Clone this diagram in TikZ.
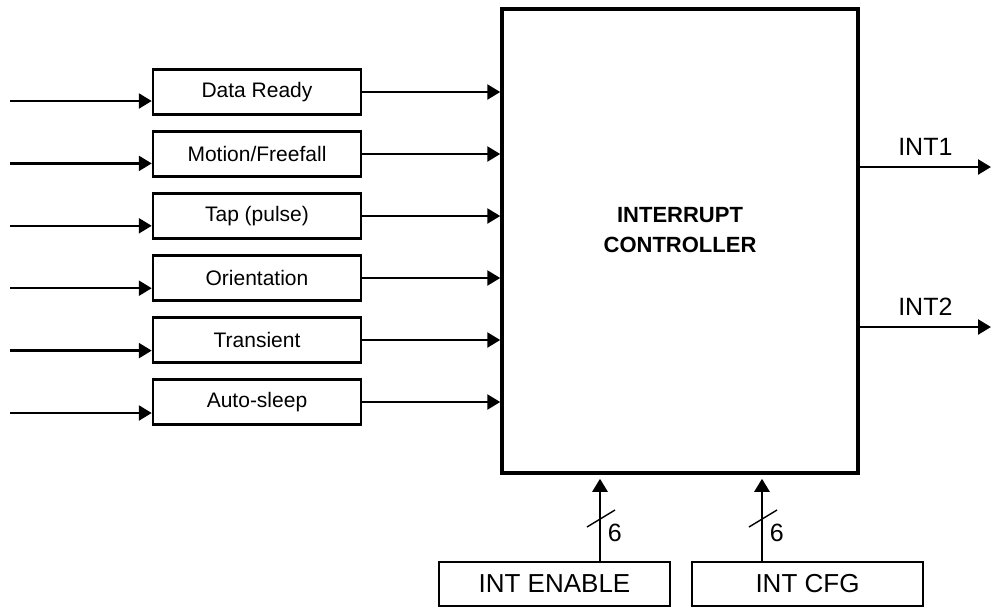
\documentclass[tikz,border=0pt]{standalone}
\usepackage{fontspec}
\setmainfont{Liberation Sans}
\usetikzlibrary{arrows.meta}
\tikzset{
  sig/.style={line width=1.25pt,-{Triangle[length=6.5pt,width=7.5pt]}},
  srcbox/.style={draw,line width=1.25pt,minimum width=104pt,minimum height=22.5pt,inner sep=0pt,font=\fontsize{10.5}{12}\selectfont},
  cfgbox/.style={draw,line width=1.25pt,minimum width=115.5pt,minimum height=22pt,inner sep=0pt,font=\fontsize{13}{15}\selectfont},
  lbl/.style={font=\fontsize{12.5}{15}\selectfont},
}
\begin{document}
\begin{tikzpicture}[x=0.5pt,y=-0.5pt]
    \useasboundingbox (0,0) rectangle (992,607);
    % 中断控制器
    \node[draw,line width=1.75pt,minimum width=178pt,minimum height=232pt] (ctrl) at (680,241) {};
    \node[font=\bfseries\fontsize{11}{15}\selectfont,align=center] (ctrltxt) at (680,230) {INTERRUPT\\CONTROLLER};
    % 六个中断源
    \foreach \i/\lab in {0/Data Ready, 1/{Motion/Freefall}, 2/Tap (pulse), 3/Orientation, 4/Transient, 5/Auto-sleep} {
        \node[srcbox] (src\i) at (257,{92+62*\i}) {\lab};
        \coordinate (in\i) at (10,{101+62.4*\i});
        \draw[sig] (in\i) -- (in\i -| src\i.west);
        \draw[sig] (src\i.east) -- (src\i.east -| ctrl.west);
    }
    % 输出 INT1 / INT2
    \coordinate (int1) at (991,167);
    \coordinate (int2) at (991,327);
    \draw[sig] (ctrl.east |- int1) -- node[lbl,above=2pt] (int1lbl) {INT1} (int1);
    \draw[sig] (ctrl.east |- int2) -- node[lbl,above=2pt] (int2lbl) {INT2} (int2);
    % 配置寄存器
    \node[cfgbox] (enable) at (554.5,584) {INT ENABLE};
    \node[cfgbox] (cfg) at (807.5,584) {INT CFG};
    \foreach \b/\x in {enable/600, cfg/762} {
        \coordinate (bus\b) at (\x,562);
        \draw[sig,shorten >=2pt] (bus\b) -- node[lbl,pos=0.33,right] (n\b) {6} (bus\b |- ctrl.south);
        % 总线斜线
        \draw[line width=0.7pt] (bus\b) ++(-13,-35) -- ++(28,-17);
    }
\end{tikzpicture}
\end{document}
